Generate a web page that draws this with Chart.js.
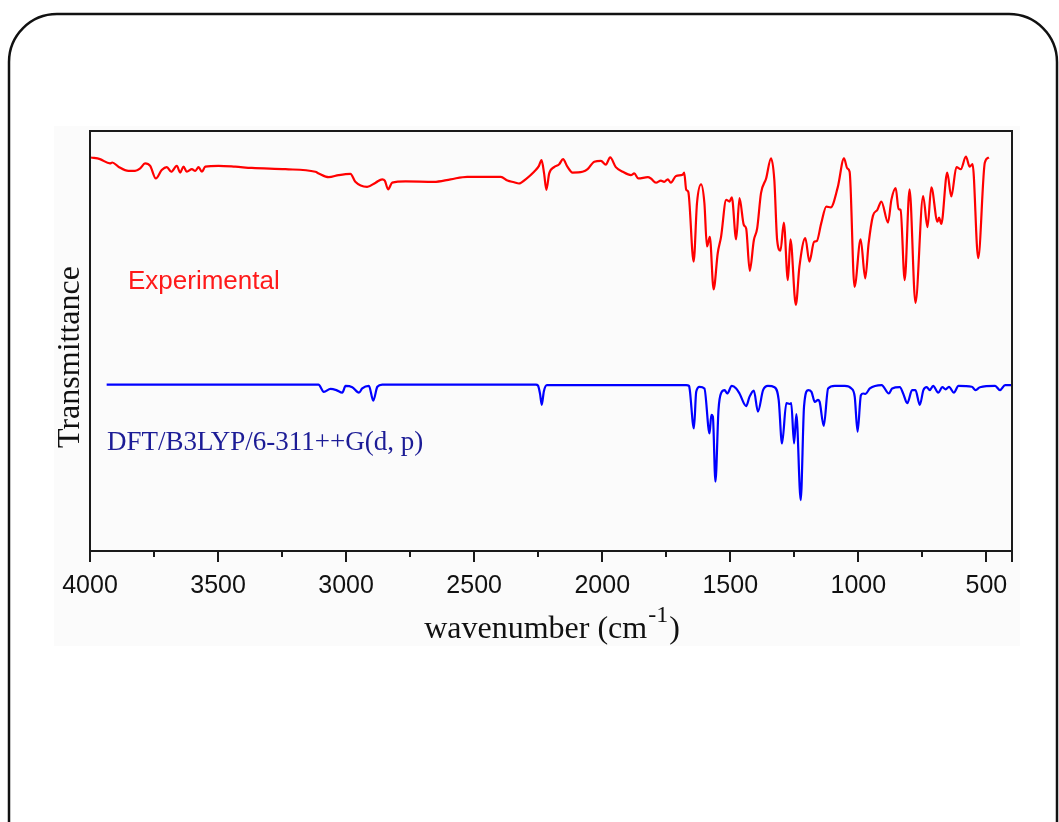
<!DOCTYPE html>
<html>
<head>
<meta charset="utf-8">
<title>FT-IR spectrum</title>
<script src="https://cdn.jsdelivr.net/npm/chart.js@4/dist/chart.umd.min.js"></script>
<style>
  html, body { margin: 0; padding: 0; background: #ffffff; }
  #wrap { width: 1059px; height: 822px; }
</style>
</head>
<body>
<div id="wrap"><canvas id="ir-chart" width="1059" height="822"></canvas></div>
<script>
// experimental spectrum (wavenumber in cm-1, transmittance in arbitrary units)
const expWavenumber = [3996,3961,3922,3913,3889,3850,3824,3804,3785,3765,
  3743,3720,3700,3683,3661,3648,3635,3622,3602,3589,
  3576,3563,3550,3498,3433,3368,3237,3120,3107,3068,
  3029,2983,2964,2918,2885,2859,2849,2836,2820,2768,
  2657,2592,2527,2396,2370,2344,2325,2299,2266,2247,
  2237,2227,2218,2207,2188,2168,2153,2136,2116,2077,
  2057,2031,2005,1986,1969,1947,1920,1888,1875,1859,
  1822,1810,1790,1771,1758,1744,1732,1712,1686,1680,
  1672,1664,1643,1630,1614,1601,1591,1580,1565,1549,
  1536,1516,1503,1494,1477,1464,1447,1438,1424,1408,
  1395,1380,1360,1341,1328,1317,1304,1291,1275,1265,
  1244,1230,1207,1191,1173,1162,1145,1125,1108,1080,
  1056,1043,1034,1015,991,973,960,943,926,910,
  884,871,854,843,835,819,800,777,747,730,
  715,691,685,676,653,637,617,600,580,565,
  554,532,506,490];
const expTransmittance = [93.7,93.3,92.3,92.5,91.5,90.5,90.5,91.1,92.3,91.7,
  88.7,90.7,91.4,90.3,91.7,90.1,91.5,90.3,90.9,90.5,
  91.4,90.3,91.5,91.7,91.5,91.2,90.9,90.3,89.9,89.0,
  89.5,89.8,87.9,86.7,87.7,88.5,88.2,86.1,87.7,88.0,
  87.9,88.5,89.1,89.1,88.2,87.8,87.5,88.5,90.3,91.7,
  93.1,89.9,86.0,89.9,91.4,92.1,93.3,91.5,90.1,90.3,
  90.9,92.7,92.9,92.0,93.7,91.4,90.3,89.5,89.9,88.7,
  89.0,88.7,87.7,88.2,87.9,88.5,87.7,89.3,89.6,90.1,
  86.0,85.5,68.9,82.8,87.3,82.8,72.5,74.8,62.3,70.9,
  74.8,83.6,83.2,84.2,74.2,84.0,77.6,76.8,66.7,74.0,
  76.8,85.2,88.7,93.5,88.3,74.0,71.5,78.2,64.5,74.2,
  58.6,67.7,74.5,68.9,73.6,73.8,78.0,82.0,81.8,86.7,
  93.5,91.1,90.3,62.9,74.2,64.9,73.1,79.8,81.2,83.2,
  78.2,83.6,86.4,81.4,81.2,64.5,86.1,59.1,84.5,77.1,
  86.6,78.4,79.4,77.9,90.1,84.4,91.4,90.9,93.9,91.5,
  92.1,69.7,92.5,93.7];

// calculated spectrum, offset below the experimental one
const dftWavenumber = [3935,3108,3087,3061,3038,3015,3002,2976,2950,2937,
  2911,2894,2878,2859,2259,2251,2243,2236,2228,2216,
  1672,1661,1658,1642,1633,1620,1601,1581,1574,1568,
  1558,1546,1535,1522,1512,1494,1477,1464,1438,1425,
  1408,1392,1372,1353,1327,1311,1298,1281,1268,1262,
  1251,1242,1225,1212,1196,1183,1170,1157,1151,1135,
  1118,1092,1053,1027,1014,1003,990,981,972,955,
  909,881,868,838,825,809,790,777,760,746,
  733,721,708,688,672,659,646,627,609,557,
  542,525,466,447,427,400];
const dftTransmittance = [39.6,39.6,37.9,38.6,38.3,37.7,39.3,39.0,37.7,38.7,
  39.3,35.8,39.1,39.6,39.6,39.4,37.5,34.8,38.0,39.5,
  39.5,39.3,38.3,29.2,37.9,39.1,38.7,28.0,32.4,32.0,
  16.5,33.6,37.7,38.3,37.5,39.3,38.7,37.5,34.5,36.7,
  38.2,33.2,38.3,39.3,39.0,36.0,25.6,35.2,35.0,35.2,
  25.6,32.6,12.1,34.4,38.3,37.9,35.5,36.0,35.5,29.8,
  38.7,39.3,39.3,38.7,36.7,28.4,37.1,37.5,37.4,38.7,
  39.5,37.5,38.7,39.0,37.5,35.2,38.3,38.3,34.8,38.3,
  39.0,38.3,39.3,37.7,39.0,38.5,39.1,37.7,39.3,39.1,
  38.3,39.0,39.3,38.3,39.5,39.5];

const majorTicks = [4000, 3500, 3000, 2500, 2000, 1500, 1000, 500];
const minorTicks = [3750, 3250, 2750, 2250, 1750, 1250, 750];
const xMin = 400, xMax = 4000;

const seriesLabels = ['Experimental', 'DFT/B3LYP/6-311++G(d, p)'];

const toPoints = (xs, ys) => xs.map((x, i) => ({ x: x, y: ys[i] }));

const SERIF = '"Liberation Serif", "Times New Roman", serif';
const SANS = '"Liberation Sans", Arial, sans-serif';

// page frame, axis frame, minor ticks and the text that Chart.js cannot lay out
const decorations = {
    id: 'decorations',
    beforeDraw(chart) {
        const c = chart.ctx;
        c.save();
        c.fillStyle = '#ffffff';
        c.fillRect(0, 0, chart.width, chart.height);
        c.fillStyle = '#fbfbfb';
        c.fillRect(54, 126, 966, 520);
        // rounded outer frame, runs off the bottom edge
        c.strokeStyle = '#111111';
        c.lineWidth = 2.5;
        c.beginPath();
        c.roundRect(9, 14, 1048, 900, 48);
        c.stroke();
        c.restore();
    },
    afterDraw(chart) {
        const c = chart.ctx;
        const a = chart.chartArea;
        const xs = chart.scales.x;
        c.save();
        c.strokeStyle = '#1a1a1a';
        c.lineWidth = 2;
        c.beginPath();
        c.moveTo(a.left - 1, a.top);
        c.lineTo(a.right, a.top);
        c.lineTo(a.right, a.bottom);
        c.stroke();

        majorTicks.concat([xMin]).forEach(v => {
            const px = Math.round(xs.getPixelForValue(v));
            c.beginPath();
            c.moveTo(px, a.bottom);
            c.lineTo(px, a.bottom + 11);
            c.stroke();
        });
        minorTicks.forEach(v => {
            const px = Math.round(xs.getPixelForValue(v));
            c.beginPath();
            c.moveTo(px, a.bottom);
            c.lineTo(px, a.bottom + 6);
            c.stroke();
        });

        // axis titles
        c.fillStyle = '#111111';
        c.textBaseline = 'alphabetic';
        c.font = '32px ' + SERIF;
        c.save();
        c.translate(79, 357);
        c.rotate(-Math.PI / 2);
        c.textAlign = 'center';
        c.fillText('Transmittance', 0, 0);
        c.restore();

        const base = 'wavenumber (cm';
        const sup = '-1';
        c.textAlign = 'left';
        c.font = '32px ' + SERIF;
        const w1 = c.measureText(base).width;
        const w3 = c.measureText(')').width;
        c.font = '24px ' + SERIF;
        const w2 = c.measureText(sup).width;
        const x0 = (a.left + a.right) / 2 - (w1 + w2 + w3) / 2;
        c.font = '32px ' + SERIF;
        c.fillText(base, x0, 638);
        c.fillText(')', x0 + w1 + w2 + 2, 638);
        c.font = '24px ' + SERIF;
        c.fillText(sup, x0 + w1 + 1, 622);

        // series labels
        c.fillStyle = '#ff1a1a';
        c.font = '26px ' + SANS;
        c.fillText(seriesLabels[0], 128, 289);
        c.fillStyle = '#1c1c96';
        c.font = '27px ' + SERIF;
        c.fillText(seriesLabels[1], 107, 450);
        c.restore();
    }
};

const ctx = document.getElementById('ir-chart');
new Chart(ctx, {
    type: 'line',
    data: {
        datasets: [
            { label: seriesLabels[0], data: toPoints(expWavenumber, expTransmittance), borderColor: '#ff0000', borderWidth: 2.2, pointRadius: 0, cubicInterpolationMode: 'monotone' },
            { label: seriesLabels[1], data: toPoints(dftWavenumber, dftTransmittance), borderColor: '#0000ff', borderWidth: 2.2, pointRadius: 0, cubicInterpolationMode: 'monotone' }
        ]
    },
    options: {
        responsive: false,
        animation: false,
        devicePixelRatio: 1,
        layout: { padding: { left: 90, top: 131, right: 47, bottom: 0 } },
        plugins: { legend: { display: false }, tooltip: { enabled: false } },
        scales: {
            x: {
                type: 'linear',
                reverse: true,
                min: xMin,
                max: xMax,
                grid: { display: false },
                border: { display: true, color: '#1a1a1a', width: 2 },
                afterBuildTicks: scale => { scale.ticks = majorTicks.map(v => ({ value: v })); },
                afterFit: scale => { scale.height = 822 - 551; },
                ticks: {
                    autoSkip: false,
                    maxRotation: 0,
                    padding: 12,
                    color: '#111111',
                    font: { family: SANS, size: 25 },
                    callback: v => String(v)
                }
            },
            y: {
                min: 0,
                max: 100,
                grid: { display: false },
                border: { display: true, color: '#1a1a1a', width: 2 },
                ticks: { display: false },
                afterFit: scale => { scale.width = 0; }
            }
        }
    },
    plugins: [decorations]
});
</script>
</body>
</html>
